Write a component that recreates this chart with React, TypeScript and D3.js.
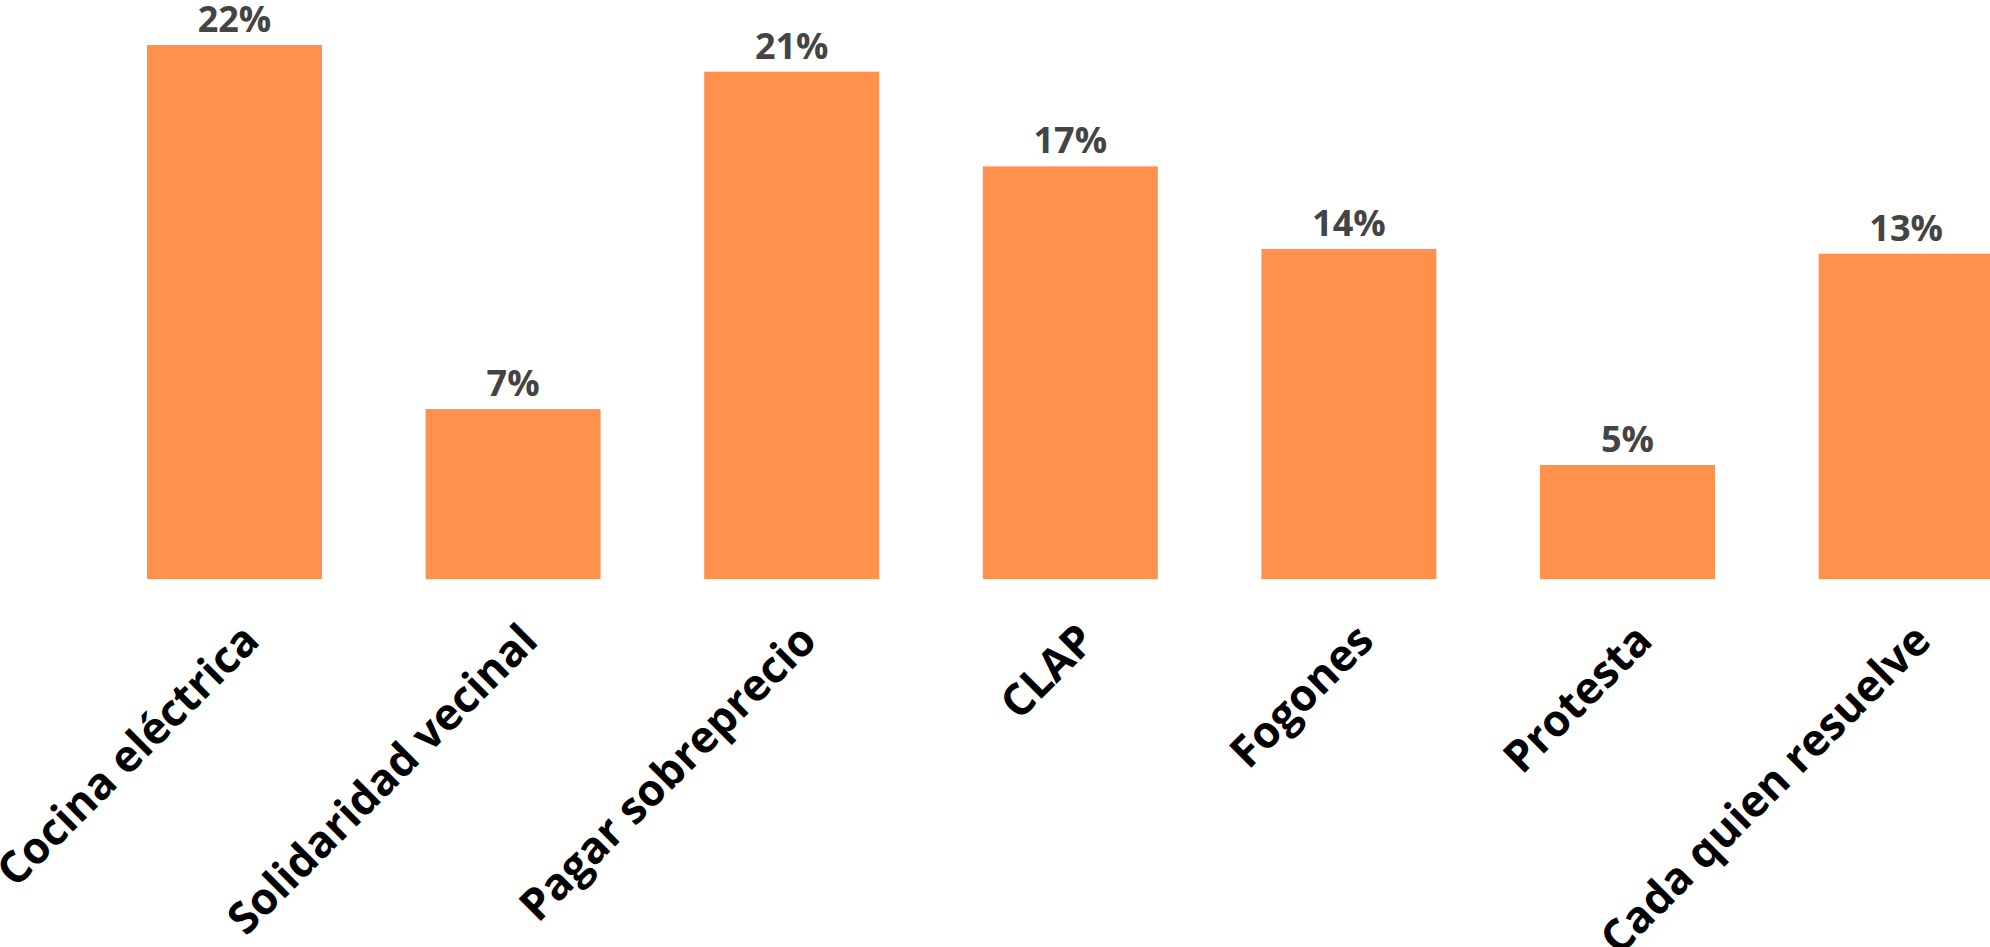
import React from "react";
import * as d3 from "d3";

const categories: string[] = [
  "Cocina eléctrica",
  "Solidaridad vecinal",
  "Pagar sobreprecio",
  "CLAP",
  "Fogones",
  "Protesta",
  "Cada quien resuelve",
];

// share of answers, in percent
const values: number[] = [22.0, 7.0, 20.9, 17.0, 13.6, 4.7, 13.4];

const WIDTH = 1990;
const HEIGHT = 947;

const App: React.FC = () => {
  const x = d3
    .scaleBand<string>()
    .domain(categories)
    .range([147, 1993.6])
    .paddingInner(0.372)
    .paddingOuter(0);

  const y = d3.scaleLinear().domain([0, 22]).range([579, 45]);

  const bw = x.bandwidth();

  return (
    <svg
      width={WIDTH}
      height={HEIGHT}
      style={{ position: "absolute", left: 0, top: 0, display: "block" }}
      fontFamily="'Open Sans', sans-serif"
    >
      <rect width={WIDTH} height={HEIGHT} fill="#ffffff" />
      {categories.map((c, i) => {
        const x0 = x(c) ?? 0;
        const cx = x0 + bw / 2;
        const v = values[i];
        return (
          <g key={c}>
            <rect
              x={x0}
              y={y(v)}
              width={bw}
              height={y(0) - y(v)}
              fill="#ff914d"
            />
            <text
              x={cx}
              y={y(v) - 13}
              textAnchor="middle"
              fontSize={36}
              fontWeight="bold"
              fill="#444444"
            >
              {`${Math.round(v)}%`}
            </text>
            <text
              transform={`translate(${cx + 27},${y(0) + 64}) rotate(-45)`}
              textAnchor="end"
              fontSize={44}
              fontWeight="bold"
              fill="#000000"
            >
              {c}
            </text>
          </g>
        );
      })}
    </svg>
  );
};

export default App;
